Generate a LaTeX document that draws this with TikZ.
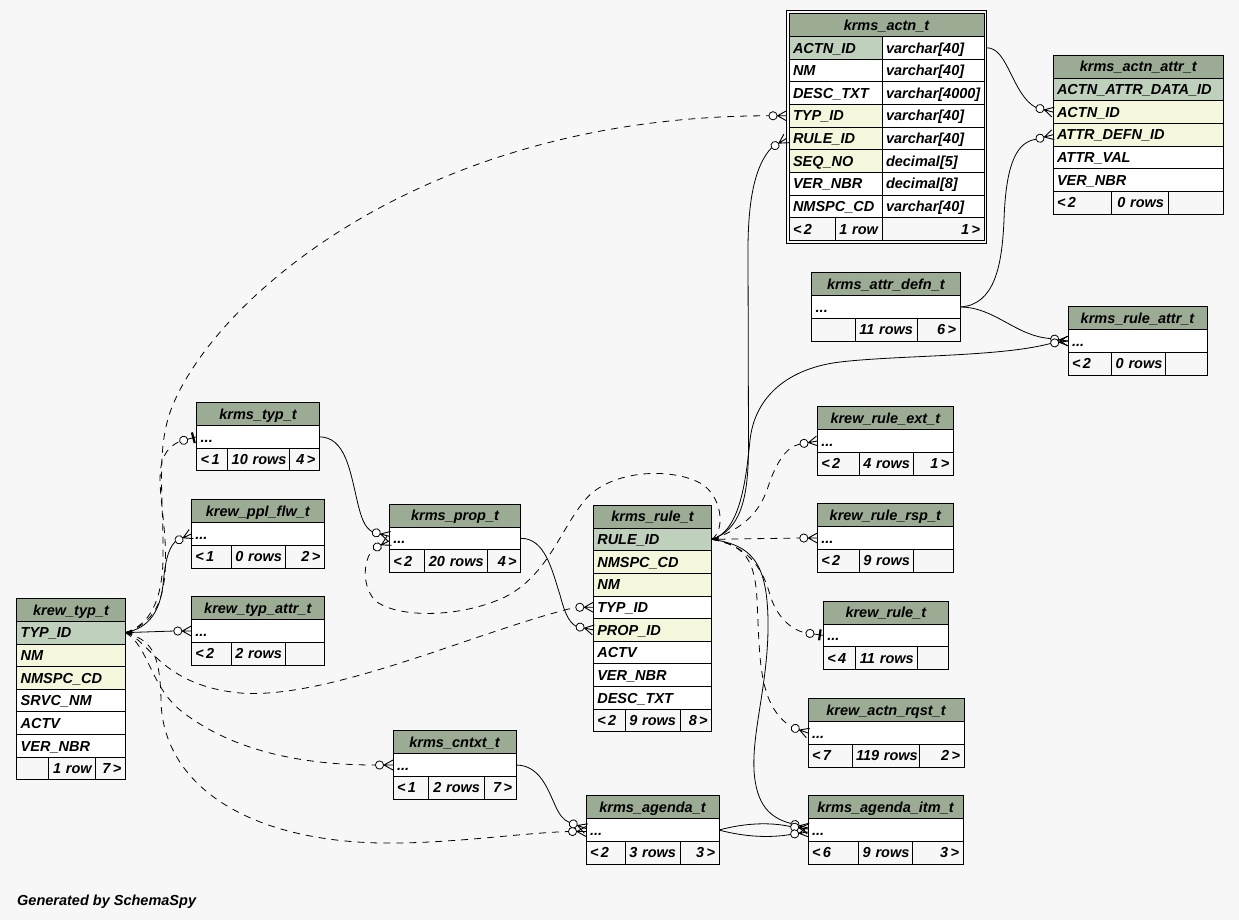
\documentclass[tikz,border=0pt]{standalone}
\usepackage{fontspec}
\setmainfont{Liberation Sans}
\usetikzlibrary{arrows.meta}
\definecolor{bg}{HTML}{F7F7F7}
\definecolor{hdrc}{HTML}{9CAB94}
\definecolor{pk}{HTML}{BFD1BC}
\definecolor{fk}{HTML}{F4F7DC}
\newcommand\cellfont{\fontsize{14.5}{16}\selectfont\bfseries\itshape}
\newcommand\tblHead[5]{%
  \pgfmathsetmacro\TBx{#2}%
  \pgfmathsetmacro\TBxx{#3}%
  \pgfmathsetmacro\TBtw{#3-#2-8}%
  \node[hdr, text width=\TBtw pt] (#1) at (\TBx,#4) {\mbox{#5}};%
  \pgfmathsetmacro\TBy{#4+23}%
}
\newcommand\tblRow[3]{%
  \node[cell, fill=#2, text width=\TBtw pt] (#1) at (\TBx,\TBy) {\mbox{#3}};%
  \pgfmathsetmacro\TBy{\TBy+22.65}%
}
\newcommand\tblRowTwo[5]{%
  \pgfmathsetmacro\TBwa{\TBd-\TBx-8}%
  \pgfmathsetmacro\TBwb{\TBxx-\TBd-8}%
  \node[cell, fill=#3, text width=\TBwa pt] (#1) at (\TBx,\TBy) {\mbox{#4}};%
  \node[cell, fill=white, text width=\TBwb pt] (#2) at (\TBd,\TBy) {\mbox{#5}};%
  \pgfmathsetmacro\TBy{\TBy+22.65}%
}
\newcommand\tblFoot[6]{%
  \pgfmathsetmacro\TBwa{#2-\TBx-8}%
  \pgfmathsetmacro\TBwb{#3-#2-8}%
  \pgfmathsetmacro\TBwc{\TBxx-#3-8}%
  \node[cell, fill=bg, text width=\TBwa pt, align=left] (#1-f1) at (\TBx,\TBy) {\mbox{#4}};%
  \node[cell, fill=bg, text width=\TBwb pt, align=right] (#1-f2) at (#2,\TBy) {\mbox{#5}};%
  \node[cell, fill=bg, text width=\TBwc pt, align=right] (#1-f3) at (#3,\TBy) {\mbox{#6}};%
}
\tikzset{
  cellbase/.style={draw=black, line width=0.9pt, anchor=north west, outer sep=0pt,
    inner xsep=4pt, inner ysep=0pt, text height=10.4pt, text depth=0pt, font=\cellfont},
  hdr/.style={cellbase, fill=hdrc, minimum height=23pt, align=center},
  cell/.style={cellbase, minimum height=22.65pt, align=left},
  conn/.style={draw=black, line width=0.8pt},
  implied/.style={conn, dash pattern=on 7pt off 6pt},
  ptip/.style={arrows={Latex[length=7pt,width=4.5pt]-}},
  pics/crowo/.style={code={
    \draw[conn, line width=0.9pt] (-9.5,0) -- (0,0) (-9,0) -- (0,-5) (-9,0) -- (0,5);
    \draw[conn, fill=white] (-13.5,0) circle[radius=4.1];
    \coordinate (-end) at (-17.6,0);}},
  pics/teeo/.style={code={
    \draw[conn] (-9.5,0) -- (0,0);
    \draw[line width=2.2pt] (-3.5,-5.5) -- (-3.5,5.5);
    \draw[conn, fill=white] (-13.5,0) circle[radius=4.1];
    \coordinate (-end) at (-17.6,0);}}
}
\begin{document}
\begin{tikzpicture}[x=1pt,y=-1pt]
\fill[bg] (0,0) rectangle (1239,920);
\useasboundingbox (0,0) rectangle (1239,920);

% krms_actn_t
\def\TBd{882}
\tblHead{actn}{789}{984}{13.5}{krms\_actn\_t}
\tblRowTwo{aID}{aIDt}{pk}{ACTN\_ID}{varchar[40]}
\tblRowTwo{aNM}{aNMt}{white}{NM}{varchar[40]}
\tblRowTwo{aDESC}{aDESCt}{white}{DESC\_TXT}{varchar[4000]}
\tblRowTwo{aTYP}{aTYPt}{fk}{TYP\_ID}{varchar[40]}
\tblRowTwo{aRULE}{aRULEt}{fk}{RULE\_ID}{varchar[40]}
\tblRowTwo{aSEQ}{aSEQt}{fk}{SEQ\_NO}{decimal[5]}
\tblRowTwo{aVER}{aVERt}{white}{VER\_NBR}{decimal[8]}
\tblRowTwo{aNMS}{aNMSt}{white}{NMSPC\_CD}{varchar[40]}
\tblFoot{actn}{835}{882}{<\,2}{1 row}{1\,>}
\draw[line width=1.3pt] (786.3,10.7) rectangle (986.7,243.5);

% krms_actn_attr_t
\tblHead{attr}{1053}{1223.5}{55.1}{krms\_actn\_attr\_t}
\tblRow{atDATA}{pk}{ACTN\_ATTR\_DATA\_ID}
\tblRow{atACTN}{fk}{ACTN\_ID}
\tblRow{atDEFN}{fk}{ATTR\_DEFN\_ID}
\tblRow{atVAL}{white}{ATTR\_VAL}
\tblRow{atVER}{white}{VER\_NBR}
\tblFoot{attr}{1111}{1168}{<\,2}{0 rows}{}

% krms_attr_defn_t
\tblHead{adefn}{811.7}{960}{272.7}{krms\_attr\_defn\_t}
\tblRow{adRow}{white}{...}
\tblFoot{adefn}{855}{917}{}{11 rows}{6\,>}

% krms_rule_attr_t
\tblHead{rattr}{1068}{1207}{306.7}{krms\_rule\_attr\_t}
\tblRow{raRow}{white}{...}
\tblFoot{rattr}{1111.7}{1165.7}{<\,2}{0 rows}{}

% krms_typ_t
\tblHead{ktyp}{196.7}{319.3}{402.5}{krms\_typ\_t}
\tblRow{ktRow}{white}{...}
\tblFoot{ktyp}{227.7}{289.3}{<\,1}{10 rows}{4\,>}

% krew_ppl_flw_t
\tblHead{ppl}{191.3}{324.3}{499.7}{krew\_ppl\_flw\_t}
\tblRow{plRow}{white}{...}
\tblFoot{ppl}{231.3}{285.3}{<\,1}{0 rows}{2\,>}

% krew_typ_attr_t
\tblHead{tattr}{191.3}{324.3}{596.7}{krew\_typ\_attr\_t}
\tblRow{taRow}{white}{...}
\tblFoot{tattr}{231.3}{285.3}{<\,2}{2 rows}{}

% krew_typ_t
\tblHead{wtyp}{16.7}{125.3}{598.3}{krew\_typ\_t}
\tblRow{wtTYP}{pk}{TYP\_ID}
\tblRow{wtNM}{fk}{NM}
\tblRow{wtNMSPC}{fk}{NMSPC\_CD}
\tblRow{wtSRVC}{white}{SRVC\_NM}
\tblRow{wtACTV}{white}{ACTV}
\tblRow{wtVER}{white}{VER\_NBR}
\tblFoot{wtyp}{48.3}{95.7}{}{1 row}{7\,>}

% krms_prop_t
\tblHead{prop}{389.3}{520.7}{504}{krms\_prop\_t}
\tblRow{prRow}{white}{...}
\tblFoot{prop}{424.3}{487.7}{<\,2}{20 rows}{4\,>}

% krms_rule_t
\tblHead{rule}{593.3}{711.7}{505}{krms\_rule\_t}
\tblRow{ruRULE}{pk}{RULE\_ID}
\tblRow{ruNMSPC}{fk}{NMSPC\_CD}
\tblRow{ruNM}{fk}{NM}
\tblRow{ruTYP}{white}{TYP\_ID}
\tblRow{ruPROP}{fk}{PROP\_ID}
\tblRow{ruACTV}{white}{ACTV}
\tblRow{ruVER}{white}{VER\_NBR}
\tblRow{ruDESC}{white}{DESC\_TXT}
\tblFoot{rule}{625}{680}{<\,2}{9 rows}{8\,>}

% krew_rule_ext_t
\tblHead{rext}{817.3}{953.3}{406.7}{krew\_rule\_ext\_t}
\tblRow{reRow}{white}{...}
\tblFoot{rext}{859.3}{913.3}{<\,2}{4 rows}{1\,>}

% krew_rule_rsp_t
\tblHead{rrsp}{817.3}{953.3}{503.7}{krew\_rule\_rsp\_t}
\tblRow{rsRow}{white}{...}
\tblFoot{rrsp}{859.3}{913.3}{<\,2}{9 rows}{}

% krew_rule_t
\tblHead{wrule}{823.3}{948.3}{601}{krew\_rule\_t}
\tblRow{wrRow}{white}{...}
\tblFoot{wrule}{855}{917.7}{<\,4}{11 rows}{}

% krew_actn_rqst_t
\tblHead{arqst}{808}{964}{698.7}{krew\_actn\_rqst\_t}
\tblRow{aqRow}{white}{...}
\tblFoot{arqst}{852}{919.5}{<\,7}{119 rows}{2\,>}

% krms_cntxt_t
\tblHead{cntxt}{393}{516}{730.7}{krms\_cntxt\_t}
\tblRow{cxRow}{white}{...}
\tblFoot{cntxt}{428}{484}{<\,1}{2 rows}{7\,>}

% krms_agenda_t
\tblHead{agenda}{586}{719}{795.7}{krms\_agenda\_t}
\tblRow{agRow}{white}{...}
\tblFoot{agenda}{625}{680}{<\,2}{3 rows}{3\,>}

% krms_agenda_itm_t
\tblHead{itm}{808}{963}{795.7}{krms\_agenda\_itm\_t}
\tblRow{itRow}{white}{...}
\tblFoot{itm}{858.7}{912.7}{<\,6}{9 rows}{3\,>}

\node[anchor=base west, font=\cellfont, inner sep=0pt] (gen) at (17,905) {Generated by SchemaSpy};

% child-end markers
\pic[rotate=-15] (m1) at (atACTN.west) {crowo};
\pic[rotate=15] (m2) at (atDEFN.west) {crowo};
\pic[rotate=-8] (m3) at (raRow.west) {crowo};
\pic[rotate=8] (m4) at (raRow.west) {crowo};
\pic[rotate=32] (m5) at ([xshift=-2.5pt]aRULE.west) {crowo};
\pic (m6) at ([xshift=-2.5pt]aTYP.west) {crowo};
\pic[rotate=15] (m7) at (ktRow.west) {teeo};
\pic[rotate=25] (m8) at (plRow.west) {crowo};
\pic (m9) at (taRow.west) {crowo};
\pic (m10) at (ruTYP.west) {crowo};
\pic (m11) at (cxRow.west) {crowo};
\pic (m12) at ([yshift=-1.5pt]agRow.west) {crowo};
\pic[rotate=-15] (m13) at ([yshift=2pt]prRow.west) {crowo};
\pic[rotate=27] (m14) at ([yshift=-2.5pt]prRow.west) {crowo};
\pic[rotate=-12] (m15) at (ruPROP.west) {crowo};
\pic[rotate=10] (m17) at (reRow.west) {crowo};
\pic (m18) at (rsRow.west) {crowo};
\pic[rotate=-8] (m19) at (wrRow.west) {teeo};
\pic[rotate=-20] (m20) at (aqRow.west) {crowo};
\pic[rotate=-15] (m21) at ([yshift=2pt]itRow.west) {crowo};
\pic[rotate=-8] (m22) at ([yshift=1pt]itRow.west) {crowo};
\pic[rotate=8] (m23) at ([yshift=-2pt]itRow.west) {crowo};
\pic[rotate=-20] (m24) at ([yshift=1.5pt]agRow.west) {crowo};

% connectors
\draw[conn] ([xshift=2.5pt]aIDt.east) .. controls (1008,47) and (1012,95) .. (m1-end);
\draw[conn] (adRow.east) .. controls (995,305) and (1002,265) .. (1004,220) .. controls (1006,160) and (1018,142) .. (m2-end);
\draw[conn] (adRow.east) .. controls (995,307) and (1015,336) .. (m3-end);
\draw[conn] (ruRULE.east) .. controls (740,532) and (746,480) .. (750,440) .. controls (755,395) and (790,368) .. (840,362) .. controls (900,355) and (1000,357) .. (m4-end);
\draw[conn] (ruRULE.east) .. controls (740,530) and (748,500) .. (748.5,450) -- (748,250) .. controls (748,200) and (755,165) .. (m5-end);
\draw[implied] (wtTYP.east) .. controls (150,625) and (162,600) .. (163,560) .. controls (164,500) and (155,450) .. (172,407) .. controls (215,300) and (420,116) .. (m6-end);
\draw[implied] (wtTYP.east) .. controls (160,622) and (168,590) .. (165,540) .. controls (162,490) and (150,455) .. (m7-end);
\draw[conn] (wtTYP.east) .. controls (150,628) and (160,610) .. (163,585) .. controls (165,565) and (167,550) .. (m8-end);
\draw[conn, ptip] (wtTYP.east) -- (m9-end);
\draw[implied] (wtTYP.east) .. controls (150,640) and (160,685) .. (240,693) .. controls (330,700) and (480,630) .. (m10-end);
\draw[implied] (wtTYP.east) .. controls (148,645) and (150,685) .. (180,710) .. controls (230,750) and (300,765) .. (m11-end);
\draw[implied] (wtTYP.east) .. controls (150,640) and (160,650) .. (161,700) .. controls (162,780) and (240,840) .. (380,843) .. controls (450,844) and (520,833) .. (m12-end);
\draw[conn] (ktRow.east) .. controls (345,437) and (350,470) .. (357,500) .. controls (361,517) and (364,527) .. (m13-end);
\draw[implied] (ruRULE.east) .. controls (726,530) and (722,495) .. (700,483) .. controls (670,467) and (610,470) .. (585,500) .. controls (560,530) and (548,575) .. (505,597) .. controls (460,618) and (400,618) .. (377,602) .. controls (362,590) and (362,560) .. (m14-end);
\draw[conn] (prRow.east) .. controls (545,538) and (552,570) .. (560,595) .. controls (564,610) and (568,622) .. (m15-end);
\draw[implied] (ruRULE.east) .. controls (740,530) and (758,515) .. (767,490) .. controls (775,465) and (785,447) .. (m17-end);
\draw[implied, ptip] (ruRULE.east) -- (m18-end);
\draw[implied] (ruRULE.east) .. controls (745,545) and (762,565) .. (770,595) .. controls (776,615) and (790,630) .. (m19-end);
\draw[implied] (ruRULE.east) .. controls (745,545) and (755,560) .. (757,600) .. controls (760,660) and (758,705) .. (m20-end);
\draw[conn] (ruRULE.east) .. controls (750,545) and (767,560) .. (768,620) .. controls (769,680) and (752,730) .. (754,770) .. controls (756,805) and (770,818) .. (m21-end);
\draw[conn] (agRow.east) .. controls (745,823) and (770,822) .. (m22-end);
\draw[conn] (agRow.east) .. controls (745,837) and (770,838) .. (m23-end);
\draw[conn] (cxRow.east) .. controls (540,765) and (548,790) .. (555,805) .. controls (559,814) and (563,820) .. (m24-end);
\end{tikzpicture}
\end{document}
